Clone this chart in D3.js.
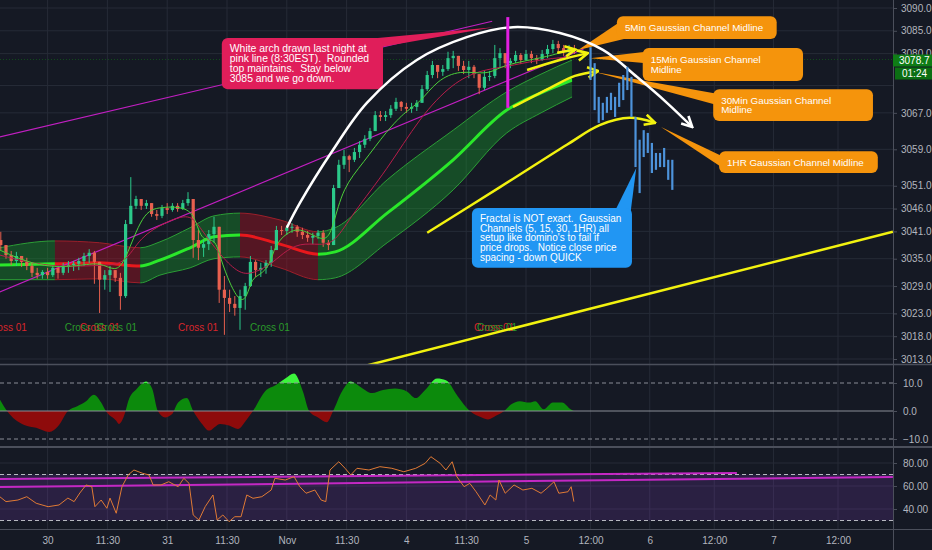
<!DOCTYPE html>
<html>
<head>
<meta charset="utf-8">
<script src="https://cdn.jsdelivr.net/npm/d3@7"></script>
<style>
html, body { margin: 0; padding: 0; background: #151924; }
svg { display: block; font-family: "Liberation Sans", Arial, sans-serif; }
</style>
</head>
<body>
<div id="chart"></div>
<script>
// time unit = trading hours since Oct 30 00:00 (ES session)
const tickLabels = ['30', '11:30', '31', '11:30', 'Nov', '11:30', '4', '11:30', '5', '12:00', '6', '12:00', '7', '12:00'];
const tickHours = [0, 11.5, 23, 34.5, 46, 57.5, 69, 80.5, 92, 104, 115, 127, 138, 150];
const priceGrid = [3090, 3085, 3080, 3073, 3067, 3059, 3051, 3046, 3041, 3035, 3029, 3023, 3018, 3013];
const priceLabels = [3090, 3085, 3080, 3067, 3059, 3051, 3046, 3041, 3035, 3029, 3023, 3018, 3013];
const lastPrice = 3078.7;
const countdown = '01:24';

// hourly candles, first bar at hour -9, open = previous close
const firstHour = -9;
const firstOpen = 3039.1;
const closes = [
  3038.0, 3035.8, 3034.5, 3035.6, 3034.3, 3033.4, 3031.9, 3031.4, 3032.1,
  3031.4, 3033.0, 3031.9, 3033.2, 3033.6, 3033.9, 3034.5, 3035.6, 3036.3, 3034.3,
  3030.4, 3031.4, 3032.5, 3030.8, 3026.8, 3042.6, 3046.6, 3048.1, 3046.6, 3047.2,
  3044.8, 3044.4, 3046.1, 3045.7, 3046.6, 3045.9, 3047.2, 3048.1, 3039.1, 3037.4,
  3038.2, 3040.4, 3042.0, 3028.2, 3026.4, 3025.1, 3024.2, 3026.8, 3029.0, 3034.3,
  3032.5, 3033.0, 3034.1, 3036.9, 3041.3, 3041.1, 3041.8, 3042.0, 3040.9, 3040.2,
  3039.6, 3040.0, 3040.7, 3038.5, 3038.0, 3050.5, 3055.6, 3057.5, 3056.7, 3058.4,
  3060.0, 3061.3, 3063.0, 3066.5, 3066.1, 3066.5, 3067.9, 3069.4, 3068.3, 3067.9,
  3068.3, 3069.2, 3072.2, 3075.3, 3077.5, 3076.0, 3076.6, 3079.0, 3079.5, 3077.3,
  3076.4, 3077.1, 3075.5, 3072.5, 3074.9, 3075.1, 3079.0, 3080.1, 3077.9, 3078.4,
  3079.7, 3078.6, 3079.9, 3079.0, 3078.6, 3079.9, 3081.0, 3082.1, 3081.2, 3080.4,
  3081.0, 3080.8
];
const highs = [
  3040.9, 3037.8, 3036.7, 3036.5, 3035.6, 3035.2, 3034.1, 3033.0, 3032.5,
  3033.0, 3033.6, 3033.0, 3034.1, 3034.5, 3034.5, 3035.2, 3036.3, 3037.1, 3036.7,
  3034.1, 3032.5, 3033.4, 3032.5, 3031.9, 3043.5, 3052.9, 3048.8, 3048.1, 3047.9,
  3047.2, 3045.7, 3046.8, 3047.2, 3047.2, 3047.2, 3047.9, 3049.6, 3047.9, 3041.3,
  3039.1, 3041.3, 3044.2, 3041.8, 3031.2, 3028.2, 3026.8, 3028.2, 3029.7, 3035.6,
  3034.7, 3034.1, 3034.7, 3037.8, 3042.2, 3042.2, 3042.4, 3042.8, 3042.4, 3041.8,
  3041.1, 3040.7, 3041.3, 3041.3, 3039.1, 3051.2, 3056.7, 3058.9, 3057.8, 3059.3,
  3060.8, 3062.1, 3063.7, 3067.4, 3067.4, 3067.4, 3068.7, 3070.3, 3069.6, 3069.2,
  3069.2, 3069.8, 3073.1, 3076.2, 3078.4, 3077.5, 3077.5, 3080.4, 3080.6, 3079.0,
  3078.4, 3078.4, 3077.5, 3075.3, 3076.2, 3076.2, 3081.9, 3081.2, 3079.7, 3079.0,
  3080.6, 3080.1, 3080.8, 3080.6, 3079.7, 3080.8, 3081.9, 3083.0, 3082.8, 3081.9,
  3081.9, 3081.9
];
const lows = [
  3036.9, 3035.0, 3033.6, 3033.4, 3033.2, 3032.5, 3031.0, 3030.6, 3030.6,
  3030.6, 3031.0, 3030.6, 3031.4, 3031.9, 3032.3, 3032.5, 3033.4, 3034.1, 3029.5,
  3023.1, 3028.2, 3027.7, 3029.9, 3023.8, 3026.4, 3042.6, 3045.9, 3045.7, 3045.9,
  3044.2, 3043.5, 3043.9, 3044.8, 3045.3, 3045.3, 3045.7, 3046.6, 3035.2, 3034.7,
  3035.4, 3036.9, 3038.5, 3025.3, 3018.3, 3023.3, 3022.5, 3019.4, 3023.8, 3028.8,
  3031.0, 3031.0, 3031.7, 3033.2, 3036.9, 3040.2, 3040.2, 3040.7, 3039.8, 3039.3,
  3038.7, 3038.2, 3039.3, 3037.6, 3036.9, 3038.0, 3051.8, 3054.7, 3054.0, 3056.2,
  3057.1, 3059.3, 3060.8, 3063.5, 3065.2, 3065.2, 3065.9, 3067.4, 3067.4, 3067.0,
  3067.0, 3067.4, 3069.4, 3071.8, 3074.6, 3074.6, 3075.1, 3076.2, 3076.8, 3076.2,
  3075.5, 3074.6, 3074.6, 3071.1, 3072.0, 3074.0, 3074.6, 3076.8, 3076.8, 3076.8,
  3077.9, 3077.7, 3078.4, 3077.9, 3077.7, 3078.4, 3079.0, 3080.1, 3079.9, 3079.5,
  3079.9, 3079.9
];

// projected fractal bars (blue)
const fractalStart = 104;
const fractalStep = 0.76;
const fractalHigh = [3081.4, 3077.9, 3070.5, 3069.2, 3070.5, 3071.4, 3070.5, 3073.6, 3075.3, 3077.1, 3074.9, 3066.1, 3061.1, 3063.2, 3062.6, 3060.4, 3058.2, 3058.2, 3059.3, 3056.7, 3056.7];
const fractalLow = [3074.2, 3067.6, 3064.8, 3065.4, 3067.0, 3067.6, 3066.1, 3068.3, 3069.8, 3072.0, 3066.1, 3055.1, 3049.4, 3057.3, 3058.2, 3053.8, 3054.5, 3055.1, 3055.1, 3052.3, 3050.1];

// moving averages
const fastMAHours = [-9.2, -1.5, 6.2, 10.1, 13, 14.9, 18.3, 21.6, 27.4, 28.7, 29.9, 32.2, 33.2, 35.1, 37, 38.3, 39.3, 40.8, 42.8, 43.7, 46, 48.5, 51.8, 53.7, 54.9, 56.8, 60.7, 65.3, 69.1, 71.6, 74.9, 79.3, 84.5, 87, 90.8, 95.9, 100.2];
const fastMA = [3036.9, 3033.0, 3033.4, 3034.3, 3032.1, 3034.3, 3045.3, 3046.4, 3046.4, 3042.4, 3038.7, 3039.6, 3035.2, 3029.3, 3025.5, 3026.4, 3030.8, 3031.4, 3033.6, 3038.0, 3040.7, 3041.8, 3039.6, 3039.1, 3042.0, 3050.7, 3056.0, 3063.2, 3067.6, 3069.2, 3074.2, 3076.4, 3075.3, 3077.1, 3078.2, 3079.3, 3080.8];
const slowMAHours = [-9.2, 0.5, 10.1, 14.9, 17.7, 22.8, 27.4, 29.3, 33.2, 36.4, 38.9, 42.8, 45.3, 48.5, 52.4, 55.3, 58.7, 65.3, 71.6, 77.9, 83.2, 88.3, 94.0, 100.2];
const slowMA = [3035.8, 3033.0, 3033.6, 3033.6, 3039.8, 3043.1, 3045.0, 3041.8, 3035.8, 3032.1, 3031.4, 3033.6, 3036.3, 3038.5, 3038.0, 3038.5, 3045.0, 3054.5, 3066.1, 3073.6, 3076.4, 3077.1, 3078.6, 3079.3];

// gaussian channel
const chanHours = [-9.2, 1.4, 10, 17.8, 21.6, 27.4, 32, 37, 44.7, 52, 55.3, 65.3, 78, 88.3, 94.8, 100.6];
const chanTop = [3037.4, 3038.9, 3038.5, 3037.4, 3038.7, 3041.8, 3044.4, 3045.0, 3043.5, 3040.9, 3041.8, 3052.3, 3063.2, 3071.6, 3075.5, 3078.6];
const chanMid = [3033.6, 3033.9, 3034.1, 3033.4, 3034.7, 3037.4, 3039.8, 3040.2, 3038.2, 3036.0, 3036.5, 3045.0, 3056.7, 3067.6, 3071.4, 3074.2];
const chanBot = [3030.4, 3030.4, 3030.6, 3029.7, 3031.4, 3033.0, 3035.0, 3035.4, 3033.0, 3030.4, 3030.8, 3038.5, 3050.1, 3062.6, 3067.0, 3070.5];
const trendBreaks = [-9.2, 1.4, 17.8, 37, 52, 100.6];
const trendUp = [true, false, true, false, true];

// drawings
const magentaLow = [[-9.2, 3027.7], [102.7, 3081.0]];
const magentaHigh = [[-9.2, 3061.7], [85.5, 3087.1]];
const yellowLong = [[61.1, 3011.5], [160.2, 3040.9]];
const whiteArch = [[46, 3041.8], [48.5, 3047.2], [54.9, 3058.9], [61.4, 3069.2], [71, 3078.6], [80.6, 3083.6], [89.5, 3085.8], [98.3, 3084.5], [106.3, 3080.8], [112.6, 3074.9], [118.2, 3069.2], [122.9, 3063.9]];
const yellow1H = [[73, 3040.7], [87, 3050.7], [99.6, 3060], [105.7, 3064.3], [111.3, 3065.9], [116, 3064.8]];
const yellow30 = [[89.5, 3068.3], [96.5, 3072.5], [101.1, 3075.1], [105.4, 3076.2]];
const yellow15 = [[92.2, 3076.4], [98.3, 3078.6], [103.5, 3080.1]];
const yellow5 = [[97.8, 3080.2], [101.2, 3080.9]];
const pinkHour = 88.5;
const pinkRange = [3068.1, 3088.0];

const crossHours = [-11.7, 3.3, 6.2, 9.5, 25.1, 38.9, 82, 82.6];
const crossUp = [false, true, false, true, false, true, false, true];
const crossPrice = 3019.9;

// oscillator panel
const oscHours = [-9.15, -7.8, -4.5, -2.2, 0.3, 2.2, 3.9, 5.7, 7.4, 8.9, 10.3, 11.2, 13.2, 13.7, 14.9, 15.5, 17.2, 18.9, 20.1, 21.2, 22.6, 23.9, 25.1, 26.8, 28, 29.7, 31, 33.2, 34.9, 36.6, 38.3, 39.5, 41.8, 43.9, 45.7, 47.4, 49.1, 50.3, 52, 53.7, 54.9, 56.6, 58.3, 60.1, 62.4, 64.5, 66.8, 69.1, 70.8, 72.6, 74.9, 76.6, 78.9, 81.2, 83.5, 84.7, 86.2, 87.8, 89.1, 90.8, 92.6, 93.7, 95.3, 97, 98.7, 100.3, 100.9];
const oscValues = [4, 0, -5, -6, -7.5, -5, 0, 1.7, 3.5, 5.8, 3, 0, -3.5, -4.6, -0.6, 3.5, 8, 10.5, 8, 0, -2.3, -1.2, 3, 4.6, 0, -4.6, -7, -4.6, -5.2, -6.4, -3, 0, 7, 9.3, 11.6, 13.4, 7, 0, -2.3, -4, 0, 7, 10.5, 8.7, 6.4, 7.5, 8, 7, 4.6, 7.5, 11.6, 11, 5.2, 0, -2.3, -3, -1.7, 0, 2.3, 3.5, 3, 3.5, 0.6, 3, 3, 0.6, 0];

// RSI panel
const rsiHours = [-9.2, -8, -5.7, -4, -2.2, 0.1, 2.2, 3.9, 5.1, 6.2, 7.4, 8.5, 9.1, 10.3, 11.4, 12, 13.2, 14.3, 15.5, 16.6, 18.3, 19.5, 20.3, 21.8, 23.3, 25.1, 26.2, 27.2, 28, 29.1, 30.3, 31.8, 32.6, 33.7, 34.9, 36, 37.2, 38.3, 39.5, 41.2, 43, 43.7, 45.7, 47.4, 48.5, 49.7, 51.4, 52.6, 53.5, 54.3, 56, 57.2, 58.3, 59.5, 61.8, 63.9, 66.2, 68.5, 70.8, 72.6, 73.7, 75.5, 76.6, 77.8, 78.7, 80.1, 81.2, 82.4, 84.1, 85.1, 86.2, 86.8, 88, 89.7, 91.4, 93.1, 94.8, 95.9, 97.2, 98.1, 99.8, 100.4, 100.9];
const rsiValues = [50.7, 46.4, 47.8, 50.7, 45, 42, 43.5, 49.5, 46.4, 53.9, 60.9, 59.4, 42, 47.8, 40.6, 49.5, 36.3, 59.4, 69.6, 73.9, 71, 69.6, 60.9, 60.9, 63.7, 59.4, 66.7, 62.3, 34.8, 30.4, 42, 52.2, 30.4, 34.8, 29, 33.3, 33.3, 52.2, 49.3, 50.7, 56.5, 66.7, 65.2, 68.1, 59.4, 53.7, 56.5, 47.8, 46.4, 73.9, 81.1, 75.4, 69.6, 75.4, 73.9, 76.8, 75.4, 72.4, 75.4, 79.7, 85.5, 79.7, 73.9, 81.1, 68.1, 59.4, 62.3, 55, 43.5, 52.2, 47.8, 65.2, 53.7, 60.9, 56.5, 58, 53.7, 58, 63.7, 53.7, 55, 59.4, 46.4];
const rsiLineA = [[-9.2, 66.1], [131.2, 71.3]];
const rsiLineB = [[-9.2, 59.1], [160.2, 67.8]];

// callouts: box corners and pointer tip in (hour, price)
const callouts = [
  { fill: '#e01e5a', box: [33.5, 3083.4, 64.5, 3072.2], tip: [85.7, 3085.8], base: 'topright', lh: 10, fs: 10.4,
    lines: ['White arch drawn last night at', 'pink line (8:30EST).  Rounded', 'top maintains.  Stay below', '3085 and we go down.'] },
  { fill: '#2196f3', box: [81.6, 3046.1, 111.7, 3033.0], tip: [112.5, 3054.9], base: 'topright', lh: 9.6, fs: 10,
    lines: ['Fractal is NOT exact.  Gaussian', 'Channels (5, 15, 30, 1HR) all', "setup like domino's to fail if", 'price drops.  Notice close price', 'spacing - down QUICK'] },
  { fill: '#f5940c', box: [108.9, 3088.2, 138.6, 3083.2], tip: [101.7, 3080.8], base: 'leftlow', lh: 9.6, fs: 9.8,
    lines: ['5Min Gaussian Channel Midline'] },
  { fill: '#f5940c', box: [113.7, 3081.2, 143.5, 3074.0], tip: [103.9, 3079.0], base: 'left', lh: 9.6, fs: 9.8,
    lines: ['15Min Gaussian Channel', 'Midline'] },
  { fill: '#f5940c', box: [126.8, 3072.2, 156.5, 3065.2], tip: [104.8, 3075.96], base: 'left', lh: 9.6, fs: 9.8,
    lines: ['30Min Gaussian Channel', 'Midline'] },
  { fill: '#f5940c', box: [127.9, 3058.6, 157.4, 3053.8], tip: [117.1, 3063.9], base: 'left', lh: 9.6, fs: 9.8,
    lines: ['1HR Gaussian Channel Midline'] }
];

const width = 932, height = 550, axisX = 893;
const mainBottom = 364, oscTop = 366, oscBottom = 446, rsiTop = 449, rsiBottom = 529;

const x = d3.scaleLinear().domain([0, 92, 150]).range([47.6, 526, 838]);
const y = d3.scaleLinear().domain([3013, 3090]).range([359, 8]);
const yOsc = d3.scaleLinear().domain([-10, 10]).range([439, 383]);
const yRsi = d3.scaleLinear().domain([30, 80]).range([520.5, 463]);

const svg = d3.select('#chart').append('svg')
    .attr('width', width)
    .attr('height', height);

svg.append('rect').attr('width', width).attr('height', height).attr('fill', '#151924');

const defs = svg.append('defs');
function clip(id, x0, y0, w, h) {
    defs.append('clipPath').attr('id', id).append('rect')
        .attr('x', x0).attr('y', y0).attr('width', w).attr('height', h);
}
clip('cMain', 0, 0, axisX, mainBottom);
clip('cOsc', 0, oscTop, axisX, oscBottom - oscTop);
clip('cRsi', 0, rsiTop, axisX, rsiBottom - rsiTop);
clip('cOscHi', 0, oscTop, axisX, yOsc(10) - oscTop);
clip('cOscPos', 0, yOsc(10), axisX, yOsc(0) - yOsc(10));
clip('cOscNeg', 0, yOsc(0), axisX, oscBottom - yOsc(0));
for (let i = 0; i < trendUp.length; i++) {
    clip('cTrend' + i, x(trendBreaks[i]), 0, x(trendBreaks[i + 1]) - x(trendBreaks[i]), mainBottom);
}

function marker(id, color) {
    defs.append('marker')
        .attr('id', id)
        .attr('viewBox', '0 0 10 10')
        .attr('refX', 9).attr('refY', 5)
        .attr('markerWidth', 13).attr('markerHeight', 13)
        .attr('markerUnits', 'userSpaceOnUse')
        .attr('orient', 'auto')
        .append('path')
        .attr('d', 'M1,1 L9,5 L1,9')
        .attr('fill', 'none')
        .attr('stroke', color)
        .attr('stroke-width', 2);
}
marker('arrW', '#ffffff');
marker('arrY', '#f2f20f');

// ---- grid ----
const grid = svg.append('g').attr('stroke', '#262b37').attr('stroke-width', 1);
tickHours.forEach(h => {
    grid.append('line').attr('x1', x(h)).attr('x2', x(h)).attr('y1', 0).attr('y2', rsiBottom);
});
priceGrid.forEach(p => {
    grid.append('line').attr('x1', 0).attr('x2', axisX).attr('y1', y(p)).attr('y2', y(p));
});
[80, 60, 40].forEach(v => {
    grid.append('line').attr('x1', 0).attr('x2', axisX).attr('y1', yRsi(v)).attr('y2', yRsi(v));
});

// ---- main panel ----
const main = svg.append('g').attr('clip-path', 'url(#cMain)');

const chan = chanHours.map((h, i) => ({ h, top: chanTop[i], mid: chanMid[i], bot: chanBot[i] }));
const bandArea = d3.area().x(d => x(d.h)).y0(d => y(d.bot)).y1(d => y(d.top)).curve(d3.curveMonotoneX);
const lineOf = key => d3.line().x(d => x(d.h)).y(d => y(d[key])).curve(d3.curveMonotoneX);

trendUp.forEach((up, i) => {
    const g = main.append('g').attr('clip-path', `url(#cTrend${i})`);
    g.append('path').attr('d', bandArea(chan))
        .attr('fill', up ? 'rgba(25,165,45,0.36)' : 'rgba(175,20,35,0.42)');
    ['top', 'bot'].forEach(k => {
        g.append('path').attr('d', lineOf(k)(chan))
            .attr('fill', 'none').attr('stroke', up ? '#2c9e36' : '#9c1f2a').attr('stroke-width', 1);
    });
    g.append('path').attr('d', lineOf('mid')(chan))
        .attr('fill', 'none').attr('stroke', up ? '#2ae82a' : '#e8181c').attr('stroke-width', 3);
});

const pline = d3.line().x(d => x(d[0])).y(d => y(d[1]));
const smooth = d3.line().x(d => x(d[0])).y(d => y(d[1])).curve(d3.curveCatmullRom);

main.append('path').attr('d', pline(magentaLow)).attr('stroke', '#c21fc2').attr('stroke-width', 1.2).attr('fill', 'none');
main.append('path').attr('d', pline(magentaHigh)).attr('stroke', '#c21fc2').attr('stroke-width', 1.2).attr('fill', 'none');

// price line
main.append('line')
    .attr('x1', 0).attr('x2', axisX)
    .attr('y1', y(lastPrice)).attr('y2', y(lastPrice))
    .attr('stroke', '#0f6a16').attr('stroke-opacity', 0.6)
    .attr('stroke-dasharray', '1,2').attr('stroke-width', 1);

// candles
const candles = closes.map((c, i) => {
    const o = i ? closes[i - 1] : firstOpen;
    return { h: firstHour + i, o, c, hi: Math.max(highs[i], o, c), lo: Math.min(lows[i], o, c) };
});
const cg = main.append('g');
cg.selectAll('line.wick')
    .data(candles)
    .join('line')
    .attr('class', 'wick')
    .attr('x1', d => x(d.h)).attr('x2', d => x(d.h))
    .attr('y1', d => y(d.hi)).attr('y2', d => y(d.lo))
    .attr('stroke', d => d.c >= d.o ? '#2bc98a' : '#e8604f')
    .attr('stroke-width', 1);
cg.selectAll('rect.body')
    .data(candles)
    .join('rect')
    .attr('class', 'body')
    .attr('x', d => x(d.h) - 1.6)
    .attr('width', 3.2)
    .attr('y', d => y(Math.max(d.o, d.c)))
    .attr('height', d => Math.max(1, Math.abs(y(d.o) - y(d.c))))
    .attr('fill', d => d.c >= d.o ? '#2bc98a' : '#e8604f');

// moving averages
const maLine = d3.line().x(d => x(d[0])).y(d => y(d[1])).curve(d3.curveBasis);
main.append('path').attr('d', maLine(slowMAHours.map((h, i) => [h, slowMA[i]])))
    .attr('fill', 'none').attr('stroke', '#b81d4a').attr('stroke-width', 1);
main.append('path').attr('d', maLine(fastMAHours.map((h, i) => [h, fastMA[i]])))
    .attr('fill', 'none').attr('stroke', '#4ccf3a').attr('stroke-width', 1);

// cross labels
main.append('g')
    .attr('font-size', 10)
    .selectAll('text')
    .data(crossHours)
    .join('text')
    .attr('x', d => x(d))
    .attr('y', y(crossPrice))
    .attr('dy', '0.35em')
    .attr('fill', (d, i) => crossUp[i] ? '#2a9a2a' : '#d8262c')
    .text('Cross 01');

// long yellow trend line
main.append('path').attr('d', pline(yellowLong)).attr('stroke', '#f2f20f').attr('stroke-width', 2.5).attr('fill', 'none');

// callouts (drawn under the drawings)
const cl = main.append('g');
callouts.forEach(c => {
    const x0 = x(c.box[0]), y0 = y(c.box[1]), x1 = x(c.box[2]), y1 = y(c.box[3]);
    const tx = x(c.tip[0]), ty = y(c.tip[1]);
    let b;
    if (c.base === 'topright') b = [[x1 - 16, y0 + 1], [x1 - 2, y0 + 9]];
    else if (c.base === 'leftlow') b = [[x0 + 1, y0 + 7], [x0 + 7, y1]];
    else b = [[x0 + 1, y0 + 4], [x0 + 1, y0 + 15]];
    cl.append('path')
        .attr('d', `M${b[0][0]},${b[0][1]} L${tx},${ty} L${b[1][0]},${b[1][1]} Z`)
        .attr('fill', c.fill);
    cl.append('rect')
        .attr('x', x0).attr('y', y0)
        .attr('width', x1 - x0).attr('height', y1 - y0)
        .attr('rx', 6).attr('fill', c.fill);
    const t = cl.append('text')
        .attr('font-size', c.fs)
        .attr('fill', '#ffffff')
        .style('white-space', 'pre');
    const totalH = c.lh * (c.lines.length - 1);
    c.lines.forEach((s, k) => {
        t.append('tspan')
            .attr('x', x0 + 8)
            .attr('y', (y0 + y1) / 2 - totalH / 2 + k * c.lh)
            .attr('dy', '0.35em')
            .text(s);
    });
});

// white arch and yellow arrows
main.append('path').attr('d', smooth(whiteArch))
    .attr('fill', 'none').attr('stroke', '#ffffff').attr('stroke-width', 2.5).attr('marker-end', 'url(#arrW)');
[yellow1H, yellow30, yellow15, yellow5].forEach(pts => {
    main.append('path').attr('d', smooth(pts))
        .attr('fill', 'none').attr('stroke', '#f2f20f').attr('stroke-width', 2.5).attr('marker-end', 'url(#arrY)');
});

// vertical pink line
main.append('line')
    .attr('x1', x(pinkHour)).attr('x2', x(pinkHour))
    .attr('y1', y(pinkRange[1])).attr('y2', y(pinkRange[0]))
    .attr('stroke', '#e21fe2').attr('stroke-width', 3);

// fractal bars
main.append('g')
    .selectAll('line')
    .data(fractalHigh)
    .join('line')
    .attr('x1', (d, i) => x(fractalStart + i * fractalStep))
    .attr('x2', (d, i) => x(fractalStart + i * fractalStep))
    .attr('y1', d => y(d))
    .attr('y2', (d, i) => y(fractalLow[i]))
    .attr('stroke', '#4d93db')
    .attr('stroke-width', 2.2);

// ---- oscillator panel ----
const osc = svg.append('g').attr('clip-path', 'url(#cOsc)');
const oscData = oscHours.map((h, i) => [h, oscValues[i]]);
const oscArea = d3.area().x(d => x(d[0])).y0(yOsc(0)).y1(d => yOsc(d[1])).curve(d3.curveMonotoneX);
[['cOscPos', '#0c8a0c'], ['cOscHi', '#3cf53c'], ['cOscNeg', '#8e0b0b']].forEach(([id, col]) => {
    osc.append('g').attr('clip-path', `url(#${id})`)
        .append('path').attr('d', oscArea(oscData)).attr('fill', col);
});
osc.append('line').attr('x1', 0).attr('x2', axisX).attr('y1', yOsc(0)).attr('y2', yOsc(0))
    .attr('stroke', '#8a8d96').attr('stroke-width', 1.2);
[10, -10].forEach(v => {
    osc.append('line').attr('x1', 0).attr('x2', axisX).attr('y1', yOsc(v)).attr('y2', yOsc(v))
        .attr('stroke', '#8a8d96').attr('stroke-dasharray', '4,3');
});

// ---- RSI panel ----
const rsi = svg.append('g').attr('clip-path', 'url(#cRsi)');
rsi.append('rect')
    .attr('x', 0).attr('width', axisX)
    .attr('y', yRsi(70)).attr('height', yRsi(30) - yRsi(70))
    .attr('fill', 'rgba(128,60,190,0.2)');
[70, 30].forEach(v => {
    rsi.append('line').attr('x1', 0).attr('x2', axisX).attr('y1', yRsi(v)).attr('y2', yRsi(v))
        .attr('stroke', '#b7b9c0').attr('stroke-dasharray', '4,3');
});
const rline = d3.line().x(d => x(d[0])).y(d => yRsi(d[1]));
[rsiLineA, rsiLineB].forEach(l => {
    rsi.append('path').attr('d', rline(l)).attr('stroke', '#c428c4').attr('stroke-width', 2).attr('fill', 'none');
});
rsi.append('path').attr('d', rline(rsiHours.map((h, i) => [h, rsiValues[i]])))
    .attr('fill', 'none').attr('stroke', '#e07a35').attr('stroke-width', 1);

// ---- separators ----
const sep = svg.append('g').attr('stroke', '#4b4f5b');
sep.append('line').attr('x1', 0).attr('x2', width).attr('y1', mainBottom + 0.5).attr('y2', mainBottom + 0.5).attr('stroke-width', 1.5);
sep.append('line').attr('x1', 0).attr('x2', width).attr('y1', 447).attr('y2', 447).attr('stroke-width', 2);
sep.append('line').attr('x1', 0).attr('x2', width).attr('y1', rsiBottom + 0.5).attr('y2', rsiBottom + 0.5);
sep.append('line').attr('x1', axisX + 0.5).attr('x2', axisX + 0.5).attr('y1', 0).attr('y2', height);

// ---- axes ----
function styleAxis(g) {
    g.select('.domain').remove();
    g.selectAll('line').attr('stroke', '#4b4f5b');
    g.selectAll('text').attr('fill', '#b2b5be').attr('font-size', 10)
        .attr('font-family', '"Liberation Sans", Arial, sans-serif');
}
svg.append('g')
    .attr('transform', `translate(${axisX},0)`)
    .call(d3.axisRight(y).tickValues(priceLabels).tickFormat(d3.format('.1f')).tickSize(4).tickPadding(4))
    .call(styleAxis);
svg.append('g')
    .attr('transform', `translate(${axisX},0)`)
    .call(d3.axisRight(yOsc).tickValues([10, 0, -10]).tickFormat(d3.format('.1f')).tickSize(4).tickPadding(6))
    .call(styleAxis);
svg.append('g')
    .attr('transform', `translate(${axisX},0)`)
    .call(d3.axisRight(yRsi).tickValues([80, 60, 40]).tickFormat(d3.format('.2f')).tickSize(4).tickPadding(6))
    .call(styleAxis);
svg.append('g')
    .attr('transform', `translate(0,${rsiBottom})`)
    .call(d3.axisBottom(x).tickValues(tickHours).tickFormat((d, i) => tickLabels[i]).tickSize(0).tickPadding(8))
    .call(styleAxis);

// last price + countdown
const py = y(lastPrice);
svg.append('rect').attr('x', axisX).attr('y', py - 5).attr('width', width - axisX).attr('height', 12).attr('fill', '#0f7d16');
svg.append('text').attr('x', axisX + 6).attr('y', py + 1).attr('dy', '0.35em')
    .attr('fill', '#ffffff').attr('font-size', 10).text(d3.format('.1f')(lastPrice));
svg.append('rect').attr('x', axisX + 2).attr('y', py + 8).attr('width', width - axisX - 2).attr('height', 12).attr('fill', '#0c6f13');
svg.append('text').attr('x', axisX + 9).attr('y', py + 14).attr('dy', '0.35em')
    .attr('fill', '#ffffff').attr('font-size', 10).text(countdown);
</script>
</body>
</html>
